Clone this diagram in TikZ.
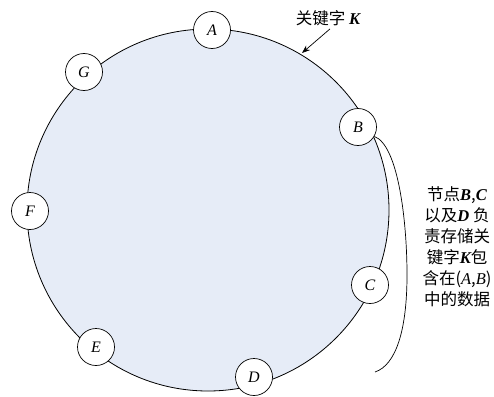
\documentclass[tikz,border=0pt]{standalone}
\usepackage{fontspec}
\setmainfont{Liberation Serif}
\newfontfamily\cjk{Noto Sans CJK SC}
\newfontfamily\tnr{Liberation Serif}
\newcommand{\latbi}[1]{{\tnr\bfseries\itshape #1}}
\newcommand{\lati}[1]{{\tnr\itshape #1}}
\usetikzlibrary{arrows.meta}
\definecolor{ringfill}{HTML}{E6ECF7}
\tikzset{
  peer/.style={circle, draw=black, fill=white, line width=0.7pt, minimum size=37pt, inner sep=0pt, font=\fontsize{16}{16}\selectfont\itshape},
  ring/.style={draw=black, fill=ringfill, line width=0.8pt},
  note/.style={font=\cjk\fontsize{16.5}{21}\selectfont, align=center, inner sep=0pt},
  pointer/.style={-{Stealth[length=8pt,width=6pt]}, line width=0.7pt},
  brace/.style={draw=black, line width=0.7pt}
}
\begin{document}
\begin{tikzpicture}[x=1pt,y=-1pt]
\useasboundingbox (0,0) rectangle (494,396);
\fill[white] (0,0) rectangle (494,396);
\path[ring] (208,210) circle[radius=181];
\node[peer] (A) at (212,30) {A};
\node[peer] (G) at (84,72) {G};
\node[peer] (F) at (30,211) {F};
\node[peer] (E) at (96,347) {E};
\node[peer] (D) at (254,377) {D};
\node[peer] (C) at (370,285) {C};
\node[peer] (B) at (358,127) {B};
\node[note] (key) at (328,18) {关键字 \latbi{K}};
\coordinate (kp) at (302,53);
\draw[pointer] (key.south) ++(2,3) coordinate (ks) (ks) -- (kp);
\coordinate (bend) at (375,372);
\draw[brace] (B.-30) .. controls (398,145) and (407,220) .. (407,275) .. controls (407,330) and (396,365) .. (bend);
\node[note] (desc) at (457,247) {节点\latbi{B},\latbi{C}\\以及\latbi{D} 负\\责存储关\\键字\latbi{K}包\\含在(\lati{A},\lati{B})\\中的数据};
\end{tikzpicture}
\end{document}
